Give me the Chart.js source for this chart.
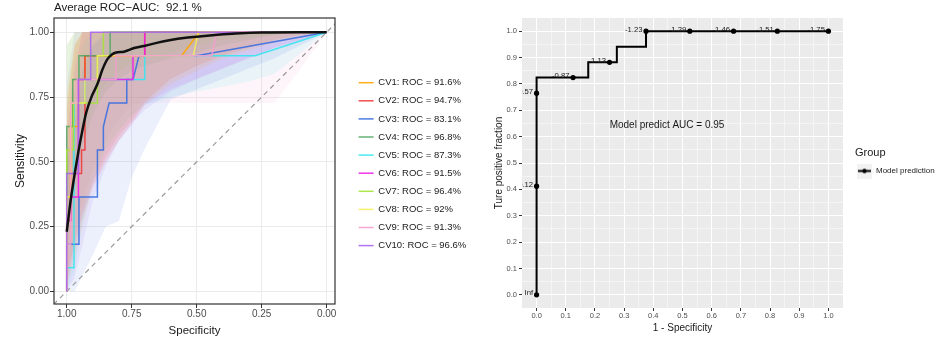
<!DOCTYPE html>
<html>
<head>
<meta charset="utf-8">
<script src="https://cdn.jsdelivr.net/npm/chart.js@4.4.1/dist/chart.umd.min.js"></script>
<style>
  body { margin: 0; background: #fff; width: 945px; height: 338px; position: relative; overflow: hidden; }
  #cvBox { position: absolute; left: 0; top: 0; width: 470px; height: 338px; }
  #rocBox { position: absolute; left: 490px; top: 0; width: 455px; height: 338px; }
</style>
</head>
<body>
<div id="cvBox"><canvas id="cvChart" width="470" height="338"></canvas></div>
<div id="rocBox"><canvas id="rocChart" width="455" height="338"></canvas></div>
<script>
// ---------- left panel: 10 fold CV ROC curves ----------
const cvTitle = 'Average ROC\u2212AUC:  92.1 %';
const cvNames = ['CV1: ROC = 91.6%', 'CV2: ROC = 94.7%', 'CV3: ROC = 83.1%', 'CV4: ROC = 96.8%', 'CV5: ROC = 87.3%',
                 'CV6: ROC = 91.5%', 'CV7: ROC = 96.4%', 'CV8: ROC = 92%', 'CV9: ROC = 91.3%', 'CV10: ROC = 96.6%'];
const cvColors = ['#ffa500', '#ee3b3b', '#3a6ee0', '#54aa66', '#36e6ee', '#ee1fe8', '#a6e23a', '#f6ee5e', '#f59fcf', '#a865f0'];
const cvTicks = [0, 0.25, 0.5, 0.75, 1];

// specificity / sensitivity of each fold (step curves)
const cvSpec = [
  [1, 1, 0.985, 0.985, 0.955, 0.955, 0.93, 0.93, 0.558, 0.49, 0],
  [1, 1, 0.985, 0.985, 0.943, 0.943, 0.93, 0.93, 0.70, 0.70, 0],
  [1, 1, 0.953, 0.953, 0.882, 0.882, 0.859, 0.859, 0.837, 0.769, 0.769, 0.745, 0.722, 0.5, 0],
  [1, 1, 0.977, 0.977, 0.953, 0.953, 0.833, 0.833, 0],
  [1, 1, 0.972, 0.972, 0.93, 0.93, 0.70, 0.70, 0.275, 0],
  [1, 1, 0.985, 0.985, 0.955, 0.955, 0.745, 0.745, 0.70, 0.70, 0],
  [1, 1, 0.974, 0.974, 0.882, 0.882, 0.859, 0.859, 0],
  [1, 1, 0.985, 0.985, 0.93, 0.93, 0.882, 0.882, 0.513, 0.494, 0],
  [1, 1, 0.985, 0.985, 0.96, 0.96, 0.81, 0.81, 0.442, 0.423, 0],
  [1, 1, 0.955, 0.955, 0.908, 0.908, 0]
];
const cvSens = [
  [0, 0.364, 0.364, 0.636, 0.636, 0.818, 0.818, 0.909, 0.909, 1, 1],
  [0, 0.273, 0.273, 0.455, 0.455, 0.545, 0.545, 0.909, 0.909, 1, 1],
  [0, 0.182, 0.182, 0.364, 0.364, 0.545, 0.545, 0.636, 0.727, 0.727, 0.818, 0.818, 0.909, 0.909, 1],
  [0, 0.636, 0.636, 0.818, 0.818, 0.909, 0.909, 1, 1],
  [0, 0.091, 0.091, 0.727, 0.727, 0.818, 0.818, 0.909, 0.909, 1],
  [0, 0.273, 0.273, 0.364, 0.364, 0.818, 0.818, 0.909, 0.909, 1, 1],
  [0, 0.545, 0.545, 0.727, 0.727, 0.909, 0.909, 1, 1],
  [0, 0.364, 0.364, 0.727, 0.727, 0.818, 0.818, 0.909, 0.909, 1, 1],
  [0, 0.182, 0.182, 0.727, 0.727, 0.818, 0.818, 0.909, 0.909, 1, 1],
  [0, 0.455, 0.455, 0.818, 0.818, 1, 1]
];

// confidence bands, sampled on one specificity grid
const bandSpec = [1, 0.97, 0.94, 0.9, 0.85, 0.8, 0.75, 0.7, 0.6, 0.5, 0.4, 0.3, 0.2, 0.1, 0];
const bandUpper = [
  [0.75, 0.95, 1, 1, 1, 1, 1, 1, 1, 1, 1, 1, 1, 1, 1],
  [0.7, 0.95, 1, 1, 1, 1, 1, 1, 1, 1, 1, 1, 1, 1, 1],
  [0.5, 0.65, 0.85, 0.95, 1, 1, 1, 1, 1, 1, 1, 1, 1, 1, 1],
  [0.95, 1, 1, 1, 1, 1, 1, 1, 1, 1, 1, 1, 1, 1, 1],
  [0.45, 0.75, 0.95, 1, 1, 1, 1, 1, 1, 1, 1, 1, 1, 1, 1],
  [0.6, 0.85, 1, 1, 1, 1, 1, 1, 1, 1, 1, 1, 1, 1, 1],
  [0.95, 1, 1, 1, 1, 1, 1, 1, 1, 1, 1, 1, 1, 1, 1],
  [0.75, 0.95, 1, 1, 1, 1, 1, 1, 1, 1, 1, 1, 1, 1, 1],
  [0.6, 0.9, 1, 1, 1, 1, 1, 1, 1, 1, 1, 1, 1, 1, 1],
  [0.8, 1, 1, 1, 1, 1, 1, 1, 1, 1, 1, 1, 1, 1, 1]
];
const bandLower = [
  [0.02, 0.12, 0.25, 0.4, 0.5, 0.58, 0.65, 0.72, 0.8, 0.85, 0.9, 0.93, 0.96, 0.98, 1],
  [0.05, 0.18, 0.3, 0.42, 0.52, 0.6, 0.66, 0.73, 0.82, 0.87, 0.91, 0.94, 0.97, 0.99, 1],
  [0, 0, 0.06, 0.14, 0.25, 0.27, 0.44, 0.55, 0.74, 0.78, 0.82, 0.86, 0.9, 0.95, 1],
  [0.15, 0.38, 0.56, 0.68, 0.77, 0.82, 0.85, 0.87, 0.9, 0.92, 0.95, 0.97, 0.99, 1, 1],
  [0, 0.08, 0.25, 0.42, 0.55, 0.62, 0.68, 0.72, 0.75, 0.77, 0.79, 0.81, 0.84, 0.92, 1],
  [0.02, 0.15, 0.28, 0.4, 0.5, 0.58, 0.64, 0.72, 0.78, 0.82, 0.86, 0.9, 0.94, 0.97, 1],
  [0.2, 0.42, 0.6, 0.72, 0.8, 0.85, 0.88, 0.9, 0.92, 0.95, 0.97, 0.98, 0.99, 1, 1],
  [0.05, 0.2, 0.32, 0.45, 0.55, 0.62, 0.68, 0.74, 0.82, 0.87, 0.91, 0.94, 0.97, 0.99, 1],
  [0.05, 0.2, 0.35, 0.47, 0.58, 0.66, 0.72, 0.727, 0.727, 0.727, 0.727, 0.727, 0.727, 0.86, 1],
  [0, 0.05, 0.18, 0.35, 0.48, 0.58, 0.65, 0.7, 0.77, 0.82, 0.86, 0.9, 0.94, 0.97, 1]
];

// averaged curve
const meanSpec = [1, 0.985, 0.97, 0.955, 0.94, 0.925, 0.905, 0.882, 0.863, 0.844, 0.825, 0.81, 0.78, 0.76, 0.741, 0.703, 0.65, 0.6, 0.55, 0.5, 0.42, 0.35, 0.25, 0.1, 0];
const meanSens = [0.23, 0.35, 0.45, 0.54, 0.62, 0.69, 0.75, 0.80, 0.855, 0.895, 0.915, 0.922, 0.925, 0.932, 0.939, 0.947, 0.96, 0.97, 0.978, 0.983, 0.99, 0.995, 0.999, 1, 1];

// chance line (runs past the panel, clipped)
const chanceSpec = [1.1, -0.1];
const chanceSens = [-0.1, 1.1];

// ---------- right panel: single ROC with cut-offs ----------
const rocPathFpr = [0, 0, 0.177, 0.177, 0.275, 0.275, 0.375, 0.375, 1];
const rocPathTpr = [0, 0.824, 0.824, 0.882, 0.882, 0.941, 0.941, 1, 1];
const cutFpr = [0, 0, 0, 0.125, 0.25, 0.375, 0.525, 0.675, 0.825, 1];
const cutTpr = [0, 0.412, 0.765, 0.824, 0.882, 1, 1, 1, 1, 1];
const cutLabels = ['Inf', '0.12', '0.57', '-0.87', '-1.13', '-1.23', '-1.29', '-1.46', '-1.51', '-1.75'];
const rocTicks = [0, 0.1, 0.2, 0.3, 0.4, 0.5, 0.6, 0.7, 0.8, 0.9, 1];
const rocMinor = [0.05, 0.15, 0.25, 0.35, 0.45, 0.55, 0.65, 0.75, 0.85, 0.95];
const aucText = 'Model predict AUC = 0.95';
const aucPos = [0.447, 0.644];

Chart.defaults.font.family = '"Liberation Sans", Arial, Helvetica, sans-serif';
Chart.defaults.color = '#4d4d4d';

const toXY = (xs, ys) => xs.map((x, i) => ({ x: x, y: ys[i] }));
const withAlpha = (hex, a) => {
  const n = parseInt(hex.slice(1), 16);
  return `rgba(${n >> 16},${(n >> 8) & 255},${n & 255},${a})`;
};

// ---- left chart datasets ----
const cvDatasets = [];
cvColors.forEach((col, i) => {
  cvDatasets.push({
    label: '', data: toXY(bandSpec, bandUpper[i]), borderWidth: 0, pointRadius: 0,
    fill: '+1', backgroundColor: withAlpha(col, 0.1), order: 30
  });
  cvDatasets.push({
    label: '', data: toXY(bandSpec, bandLower[i]), borderWidth: 0, pointRadius: 0,
    fill: false, order: 30
  });
});
cvColors.forEach((col, i) => {
  cvDatasets.push({
    label: cvNames[i], data: toXY(cvSpec[i], cvSens[i]),
    borderColor: withAlpha(col, 0.9), backgroundColor: col, borderWidth: 1.5,
    pointRadius: 0, fill: false, order: 20 - i
  });
});
cvDatasets.push({
  label: '', data: toXY(chanceSpec, chanceSens), borderColor: '#9a9a9a', borderWidth: 1.2,
  borderDash: [5, 4], pointRadius: 0, fill: false, order: 25
});
cvDatasets.push({
  label: '', data: toXY(meanSpec, meanSens), borderColor: '#111', borderWidth: 2.5,
  pointRadius: 0, fill: false, cubicInterpolationMode: 'monotone', order: 0
});

const cvDecor = {
  id: 'cvDecor',
  afterDraw(chart) {
    const { ctx, chartArea: a } = chart;
    ctx.save();
    ctx.strokeStyle = '#333';
    ctx.lineWidth = 1.2;
    ctx.strokeRect(a.left, a.top, a.right - a.left, a.bottom - a.top);
    ctx.fillStyle = '#1a1a1a';
    ctx.font = '11.5px "Liberation Sans", Arial, sans-serif';
    ctx.textBaseline = 'middle';
    ctx.textAlign = 'left';
    ctx.fillText(cvTitle, a.left, 8);
    ctx.restore();
  }
};

new Chart(document.getElementById('cvChart'), {
  type: 'line',
  data: { datasets: cvDatasets },
  options: {
    responsive: false,
    animation: false,
    devicePixelRatio: 1,
    layout: { padding: { top: 18, left: 0, right: 0, bottom: 0 } },
    scales: {
      x: {
        type: 'linear', reverse: true, min: -0.032, max: 1.049,
        afterBuildTicks: s => { s.ticks = cvTicks.map(v => ({ value: v })); },
        afterFit: s => { s.height = 34; },
        grid: { color: '#ebebeb', tickColor: '#333', tickLength: 4 },
        border: { display: false },
        ticks: { autoSkip: false, maxRotation: 0, padding: 0, color: '#4d4d4d', font: { size: 10 },
                 callback: v => Number(v).toFixed(2) },
        title: { display: true, text: 'Specificity', color: '#1a1a1a', font: { size: 11.5 }, padding: 0 }
      },
      y: {
        type: 'linear', min: -0.049, max: 1.055,
        afterBuildTicks: s => { s.ticks = cvTicks.map(v => ({ value: v })); },
        afterFit: s => { s.width = 54; },
        grid: { color: '#ebebeb', tickColor: '#333', tickLength: 4 },
        border: { display: false },
        ticks: { autoSkip: false, padding: 1, color: '#4d4d4d', font: { size: 10 },
                 callback: v => Number(v).toFixed(2) },
        title: { display: true, text: 'Sensitivity', color: '#1a1a1a', font: { size: 12 }, padding: { top: 13.5 } }
      },
      y2: {
        position: 'right', display: true,
        grid: { display: false, drawTicks: false }, border: { display: false },
        ticks: { display: false },
        afterFit: s => { s.width = 15; }
      }
    },
    plugins: {
      legend: {
        position: 'right', align: 'start', fullSize: false, maxWidth: 120,
        title: { display: true, text: ' ', font: { size: 10 }, padding: { top: 39.35, bottom: 0 } },
        labels: {
          usePointStyle: true, pointStyle: 'line', pointStyleWidth: 15, padding: 8.6,
          color: '#1a1a1a', font: { size: 9.5 },
          filter: item => cvNames.includes(item.text),
          sort: (a, b) => a.datasetIndex - b.datasetIndex
        }
      },
      tooltip: { enabled: false }
    }
  },
  plugins: [cvDecor]
});

// ---- right chart ----
const isMajor = v => rocTicks.some(t => Math.abs(t - v) < 1e-9);
const rocGrid = rocTicks.concat(rocMinor).sort((a, b) => a - b);

const keyImg = document.createElement('canvas');
keyImg.width = 15; keyImg.height = 15;
(() => {
  const k = keyImg.getContext('2d');
  k.fillStyle = '#f2f2f2'; k.fillRect(0, 0, 15, 15);
  k.strokeStyle = '#000'; k.lineWidth = 2;
  k.beginPath(); k.moveTo(1, 7.5); k.lineTo(14, 7.5); k.stroke();
  k.fillStyle = '#000'; k.beginPath(); k.arc(7.5, 7.5, 2.2, 0, Math.PI * 2); k.fill();
})();

const rocDecor = {
  id: 'rocDecor',
  beforeDraw(chart) {
    const { ctx, chartArea: a } = chart;
    ctx.save();
    ctx.fillStyle = '#ebebeb';
    ctx.fillRect(a.left, a.top, a.right - a.left, a.bottom - a.top);
    ctx.restore();
  },
  afterDatasetsDraw(chart) {
    const { ctx, chartArea: a, scales } = chart;
    const meta = chart.getDatasetMeta(1);
    ctx.save();
    ctx.beginPath();
    ctx.rect(a.left, a.top, a.right - a.left, a.bottom - a.top);
    ctx.clip();
    ctx.fillStyle = '#1a1a1a';
    ctx.font = '7.7px "Liberation Sans", Arial, sans-serif';
    ctx.textAlign = 'right';
    ctx.textBaseline = 'middle';
    meta.data.forEach((pt, i) => ctx.fillText(cutLabels[i], pt.x - 3.5, pt.y - 1.5));
    ctx.font = '10px "Liberation Sans", Arial, sans-serif';
    ctx.textAlign = 'center';
    ctx.fillText(aucText, scales.x.getPixelForValue(aucPos[0]), scales.y.getPixelForValue(aucPos[1]));
    ctx.restore();
  }
};

const rocScale = (title, titlePad, isX) => ({
  type: 'linear', min: -0.05, max: 1.05,
  afterBuildTicks: s => { s.ticks = rocGrid.map(v => ({ value: v })); },
  grid: {
    color: '#ffffff',
    lineWidth: c => (c.tick && isMajor(c.tick.value)) ? 1 : 0.5,
    tickColor: c => (c.tick && isMajor(c.tick.value)) ? '#333' : 'rgba(0,0,0,0)',
    tickLength: 3
  },
  border: { display: false },
  ticks: { autoSkip: false, maxRotation: 0, padding: isX ? 0 : 2, color: '#4d4d4d', font: { size: 7.5 },
           callback: v => isMajor(v) ? Number(v).toFixed(1) : '' },
  title: { display: true, text: title, color: '#1a1a1a', font: { size: 10 }, padding: titlePad }
});

const rocX = rocScale('1 - Specificity', { top: 0, bottom: 4 }, true);
rocX.afterFit = s => { s.height = 30; };
const rocY = rocScale('Ture positive fraction', { top: 3, bottom: 0 }, false);
rocY.afterFit = s => { s.width = 32; };

new Chart(document.getElementById('rocChart'), {
  type: 'line',
  data: {
    datasets: [
      { label: 'Model prediction', data: toXY(rocPathFpr, rocPathTpr), borderColor: '#000', backgroundColor: '#000',
        borderWidth: 2, pointRadius: 0, fill: false, order: 1 },
      { label: 'cut-offs', data: toXY(cutFpr, cutTpr), showLine: false, pointRadius: 2.6,
        pointBackgroundColor: '#000', pointBorderWidth: 0, order: 0 }
    ]
  },
  options: {
    responsive: false,
    animation: false,
    devicePixelRatio: 1,
    layout: { padding: { top: 18, left: 0, right: 5, bottom: 0 } },
    scales: {
      x: rocX,
      y: rocY,
      y2: {
        position: 'right', display: true,
        grid: { display: false, drawTicks: false }, border: { display: false },
        ticks: { display: false },
        afterFit: s => { s.width = 12; }
      }
    },
    plugins: {
      legend: {
        position: 'right', align: 'start', fullSize: false, maxWidth: 85,
        title: { display: true, text: 'Group', position: 'start', color: '#1a1a1a', font: { size: 11 },
                 padding: { top: 129.5, bottom: 4.3 } },
        labels: {
          usePointStyle: true, pointStyle: keyImg, pointStyleWidth: 15, padding: 2,
          color: '#1a1a1a', font: { size: 8 },
          filter: item => item.text === 'Model prediction'
        }
      },
      tooltip: { enabled: false }
    }
  },
  plugins: [rocDecor]
});
</script>
</body>
</html>
